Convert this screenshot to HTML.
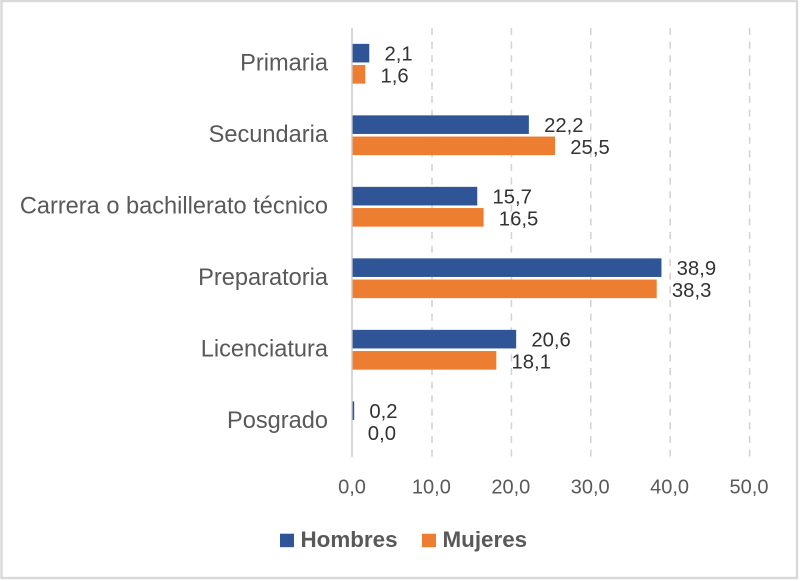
<!DOCTYPE html>
<html lang="es">
<head>
<meta charset="utf-8">
<title>Hombres y Mujeres por nivel de estudios</title>
<style>
html,body{margin:0;padding:0;background:#fff;}
svg{display:block;font-family:"Liberation Sans",sans-serif;}
</style>
</head>
<body>
<svg id="chart" width="800" height="581" viewBox="0 0 800 581" xmlns="http://www.w3.org/2000/svg"></svg>
<script>
const categories = ["Primaria","Secundaria","Carrera o bachillerato técnico","Preparatoria","Licenciatura","Posgrado"];
const hombres = [2.1,22.2,15.7,38.9,20.6,0.2];
const mujeres = [1.6,25.5,16.5,38.3,18.1,0.0];
const xTicks = [0,10,20,30,40,50];
const seriesNames = ["Hombres","Mujeres"];

const NS = "http://www.w3.org/2000/svg";
const svg = document.getElementById("chart");
const plotLeft = 352.6, unit = 7.94, plotTop = 28, plotBottom = 457;
const band = (plotBottom - plotTop) / categories.length;
const barH = 18.6, barGap = 2.6;
const xScale = v => plotLeft + v * unit;
const yBand = i => plotTop + band * i + band / 2;
const fmt = v => v.toFixed(1).replace(".", ",");

function make(tag, attrs, text) {
  const el = document.createElementNS(NS, tag);
  for (const k in attrs) el.setAttribute(k, attrs[k]);
  if (text !== undefined) el.textContent = text;
  svg.appendChild(el);
  return el;
}

const frame = make("rect", {x:1.5,y:1,width:795.5,height:577,fill:"#fff",stroke:"#d9d9d9","stroke-width":2.4});



xTicks.forEach(t => {
  if (t > 0) {
    const g = make("line", {x1:xScale(t),x2:xScale(t),y1:plotTop,y2:plotBottom,stroke:"#d4d4d4","stroke-width":1.6,"stroke-dasharray":"7 6.6"});
    
    
  }
  const l = make("text", {x:xScale(t)-0.6,y:493.5,"text-anchor":"middle","font-size":20,fill:"#595959"}, fmt(t));
  
  
});

const axis = make("line", {x1:plotLeft-0.6,x2:plotLeft-0.6,y1:plotTop,y2:plotBottom,stroke:"#cfcfcf","stroke-width":1.6});



categories.forEach((c, i) => {
  const cy = yBand(i);
  const lab = make("text", {x:328,y:cy+6.5,"text-anchor":"end","font-size":23.6,fill:"#595959"}, c);
  
  

  const hv = hombres[i], mv = mujeres[i];
  const hb = make("rect", {x:xScale(0),y:cy-barGap/2-barH,width:xScale(hv)-xScale(0),height:barH,fill:"#2f5597"});
  
  
  const mb = make("rect", {x:xScale(0),y:cy+barGap/2,width:xScale(mv)-xScale(0),height:barH,fill:"#ed7d31"});
  
  

  const hl = make("text", {x:xScale(hv)+15.2,y:cy-3.3,"font-size":20.3,fill:"#333"}, fmt(hv));
  
  
  const ml = make("text", {x:xScale(mv)+15.2,y:cy+18.6,"font-size":20.3,fill:"#333"}, fmt(mv));
  
  
});

const legendColors = ["#2f5597","#ed7d31"];
const legendSwatchX = [280,422];
seriesNames.forEach((n, i) => {
  const s = make("rect", {x:legendSwatchX[i],y:533.7,width:14,height:13.5,fill:legendColors[i]});
  
  
  const t = make("text", {x:legendSwatchX[i]+20.5,y:547,"font-size":22.4,"font-weight":"bold",fill:"#595959"}, n);
  
  
});
</script>
</body>
</html>
